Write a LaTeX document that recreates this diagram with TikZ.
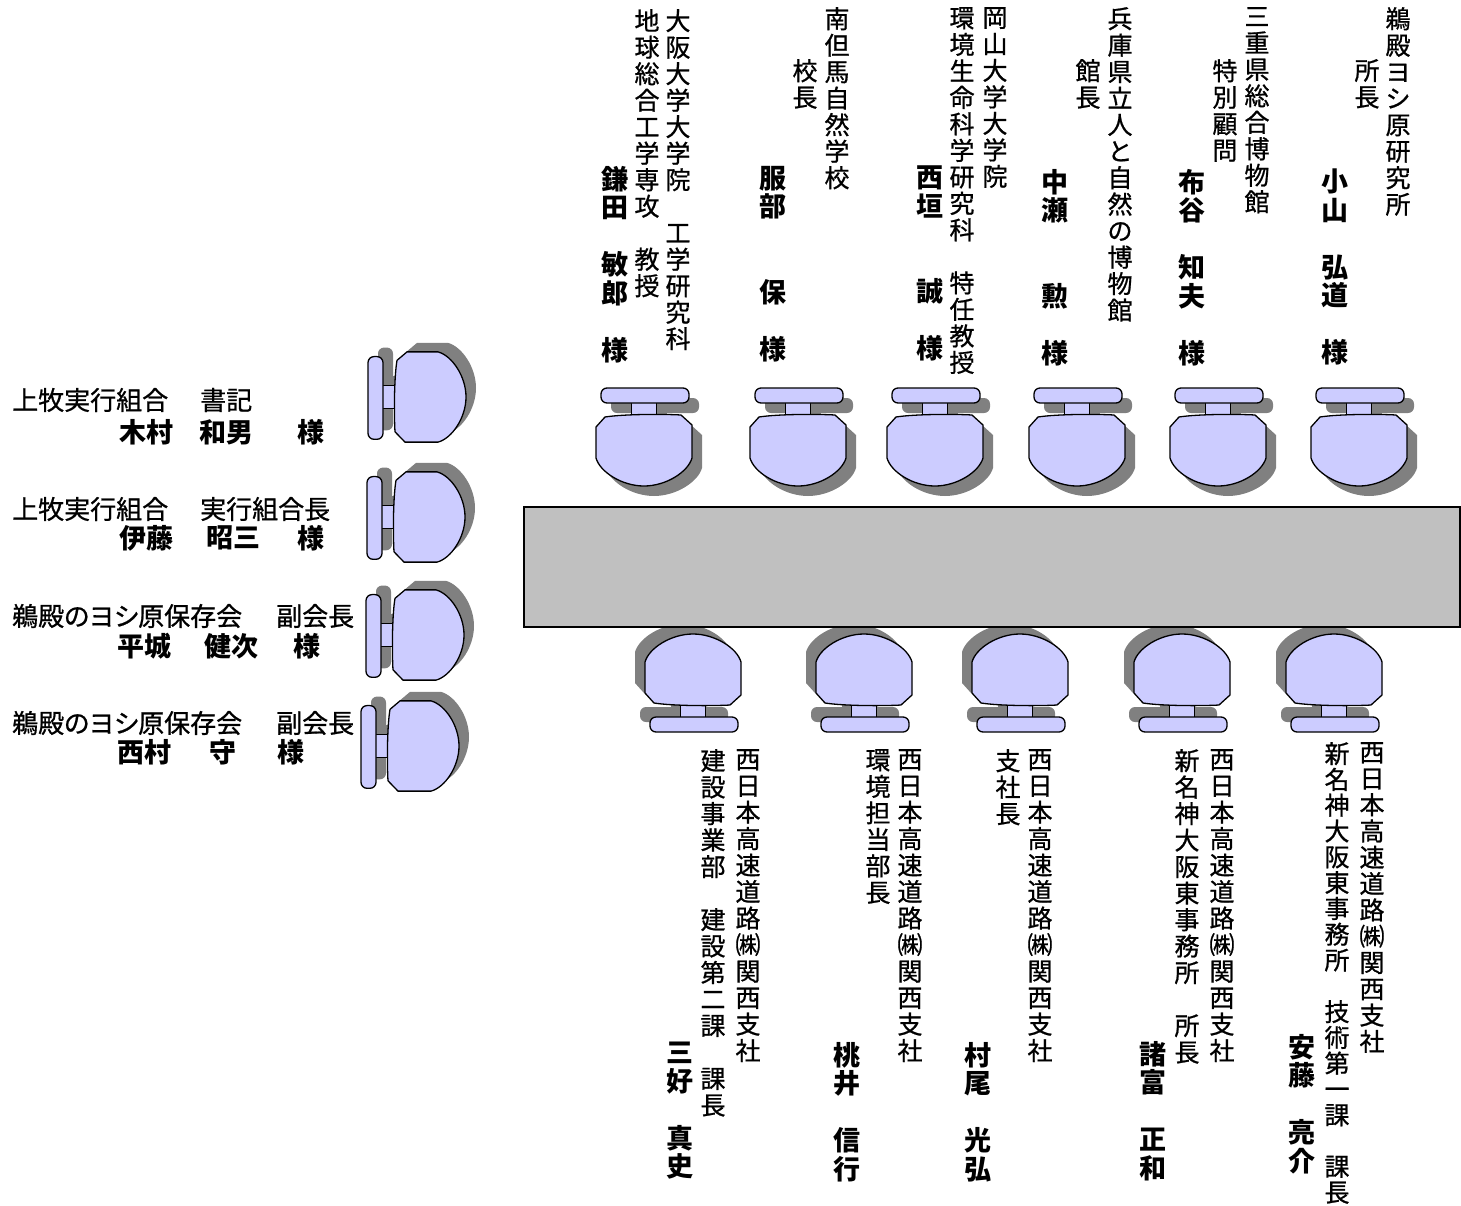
\documentclass[tikz,border=0pt]{standalone}
\usepackage{fontspec}
\setmainfont{Noto Sans CJK JP}
\newfontfamily\jpr{Noto Sans CJK JP}[FakeBold=0.8]
\newfontfamily\jprp{Noto Sans CJK JP}[FakeBold=0.8,RawFeature=+palt]
\definecolor{chairfill}{RGB}{204,204,255}
\definecolor{shadowgray}{RGB}{128,128,128}
\definecolor{tablegray}{RGB}{192,192,192}
\ExplSyntaxOn
\seq_new:N \l_ta_seq
\NewDocumentCommand \tatext { m }
  {
    \seq_clear:N \l_ta_seq
    \tl_map_inline:nn { #1 } { \seq_put_right:Nn \l_ta_seq { ##1 } }
    \seq_use:Nn \l_ta_seq { \\ }
  }
\ExplSyntaxOff
\newcommand\chairshapes[1]{%
  \path[#1] (-12.5,14) rectangle (12.5,30);
  \path[#1, rounded corners=6pt] (-43,0) rectangle (45,15);
  \path[#1] (-48,39) -- (-39,29) .. controls (-20,26) and (20,26) .. (37,27) -- (48,37) -- (48,70)
     .. controls (44,84) and (22,98) .. (0,98) .. controls (-22,98) and (-44,84) .. (-48,70) -- cycle;
}
\newcommand\topchair[2]{\begin{scope}[shift={(#1,388)}]\chairshapes{#2}\end{scope}}
\newcommand\topshadow[1]{\begin{scope}[shift={(#1+10,398)}]\chairshapes{shadowsty}\end{scope}}
\newcommand\botchair[2]{\begin{scope}[shift={(#1,732)},yscale=-1]\chairshapes{#2}\end{scope}}
\newcommand\botshadow[1]{\begin{scope}[shift={(#1-10,722)},yscale=-1]\chairshapes{shadowsty}\end{scope}}
\newcommand\leftchair[3]{\begin{scope}[shift={(#1,#2)},rotate=90,xscale=-0.94]\chairshapes{#3}\end{scope}}
\newcommand\leftshadow[2]{\begin{scope}[shift={(#1+10,#2-9)},rotate=90,xscale=-0.94]\chairshapes{shadowsty}\end{scope}}
\begin{document}
\begin{tikzpicture}[x=1pt,y=-1pt,
  chairsty/.style={draw=black,line width=1.3pt,fill=chairfill,line join=round},
  shadowsty/.style={fill=shadowgray},
  vreg/.style={inner sep=0pt,anchor=north,align=center,font=\jpr\fontsize{25}{26.5}\selectfont},
  vbld/.style={inner sep=0pt,anchor=north,align=center,font=\fontsize{27}{28.5}\selectfont\bfseries},
  hreg/.style={inner sep=0pt,anchor=west,font=\jprp\fontsize{26}{28}\selectfont},
  hbld/.style={inner sep=0pt,anchor=west,font=\fontsize{27}{28}\selectfont\bfseries}]
\useasboundingbox[fill=white] (0,0) rectangle (1461,1205);
% shadows
\foreach \cx in {644,798,935,1077,1218,1359} {\topshadow{\cx}}
\foreach \cx in {693,864,1020,1182,1334} {\botshadow{\cx}}
\leftshadow{368}{397}
\leftshadow{367}{517}
\leftshadow{366}{635}
\leftshadow{361}{746}
% table
\draw[fill=tablegray,line width=2.2pt] (524,507) rectangle (1460,627);
% chairs
\foreach \cx in {644,798,935,1077,1218,1359} {\topchair{\cx}{chairsty}}
\foreach \cx in {693,864,1020,1182,1334} {\botchair{\cx}{chairsty}}
\leftchair{368}{397}{chairsty}
\leftchair{367}{517}{chairsty}
\leftchair{366}{635}{chairsty}
\leftchair{361}{746}{chairsty}
% top texts
\node[vreg] (ta1) at (678,9) {\tatext{大阪大学大学院　工学研究科}};
\node[vreg] (ta2) at (647,9) {\tatext{地球総合工学専攻　教授}};
\node[vbld] (na) at (615,166) {\tatext{鎌田　敏郎　様}};
\node[vreg] (tb1) at (837,7) {\tatext{南但馬自然学校}};
\node[vreg] (tb2) at (805,59) {\tatext{校長}};
\node[vbld] (nb) at (773,166) {\tatext{服部　　保　様}};
\node[vreg] (tc1) at (995,7) {\tatext{岡山大学大学院}};
\node[vreg] (tc2) at (962,7) {\tatext{環境生命科学研究科　特任教授}};
\node[vbld] (nc) at (930,166) {\tatext{西垣　　誠　様}};
\node[vreg] (td1) at (1120,7) {\tatext{兵庫県立人と自然の博物館}};
\node[vreg] (td2) at (1088,59) {\tatext{館長}};
\node[vbld] (nd) at (1055,169) {\tatext{中瀬　　勲　様}};
\node[vreg] (te1) at (1257,7) {\tatext{三重県総合博物館}};
\node[vreg] (te2) at (1225,59) {\tatext{特別顧問}};
\node[vbld] (ne) at (1192,169) {\tatext{布谷　知夫　様}};
\node[vreg] (tf1) at (1398,7) {\tatext{鵜殿ヨシ原研究所}};
\node[vreg] (tf2) at (1367,59) {\tatext{所長}};
\node[vbld] (nf) at (1335,169) {\tatext{小山　弘道　様}};
% bottom texts
\node[vreg] (ba1) at (748,749) {\tatext{西日本高速道路㈱関西支社}};
\node[vreg] (ba2) at (713,749) {\tatext{建設事業部　建設第二課　課長}};
\node[vbld] (ma) at (680,1042) {\tatext{三好　真史}};
\node[vreg] (bb1) at (910,749) {\tatext{西日本高速道路㈱関西支社}};
\node[vreg] (bb2) at (878,749) {\tatext{環境担当部長}};
\node[vbld] (mb) at (847,1042) {\tatext{桃井　信行}};
\node[vreg] (bc1) at (1040,749) {\tatext{西日本高速道路㈱関西支社}};
\node[vreg] (bc2) at (1008,749) {\tatext{支社長}};
\node[vbld] (mc) at (978,1042) {\tatext{村尾　光弘}};
\node[vreg] (bd1) at (1222,749) {\tatext{西日本高速道路㈱関西支社}};
\node[vreg] (bd2) at (1187,749) {\tatext{新名神大阪東事務所　所長}};
\node[vbld] (md) at (1153,1041) {\tatext{諸富　正和}};
\node[vreg,font=\jpr\fontsize{25}{26.3}\selectfont] (be1) at (1372,742) {\tatext{西日本高速道路㈱関西支社}};
\node[vreg,font=\jpr\fontsize{25}{25.8}\selectfont] (be2) at (1337,742) {\tatext{新名神大阪東事務所　技術第一課　課長}};
\node[vbld] (me) at (1302,1034) {\tatext{安藤　亮介}};
% left texts
\node[hreg] (la1) at (12,400) {上牧実行組合};
\node[hreg] (la2) at (200,400) {書記};
\node[hbld] (lna1) at (119,432) {木村};
\node[hbld] (lna2) at (199,432) {和男};
\node[hbld] (lna3) at (297,432) {様};
\node[hreg] (lb1) at (12,509) {上牧実行組合};
\node[hreg] (lb2) at (200,509) {実行組合長};
\node[hbld] (lnb1) at (119,538) {伊藤};
\node[hbld] (lnb2) at (206,538) {昭三};
\node[hbld] (lnb3) at (297,538) {様};
\node[hreg] (lc1) at (12,616) {鵜殿のヨシ原保存会};
\node[hreg] (lc2) at (276,616) {副会長};
\node[hbld] (lnc1) at (117,646) {平城};
\node[hbld] (lnc2) at (204,646) {健次};
\node[hbld] (lnc3) at (293,646) {様};
\node[hreg] (ld1) at (12,723) {鵜殿のヨシ原保存会};
\node[hreg] (ld2) at (276,723) {副会長};
\node[hbld] (lnd1) at (117,752) {西村};
\node[hbld] (lnd2) at (209,752) {守};
\node[hbld] (lnd3) at (277,752) {様};
\end{tikzpicture}
\end{document}
